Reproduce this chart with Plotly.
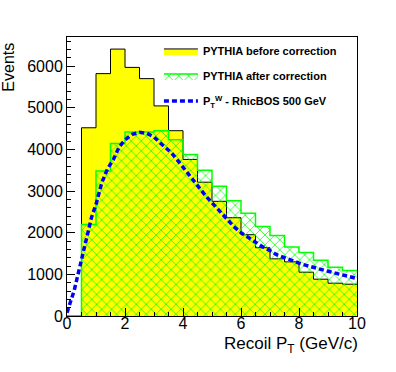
import plotly.graph_objects as go

# ---- data ----
bin_edges = [i * 0.5 for i in range(21)]
before_corr = [0, 4520, 5820, 6410, 5970, 5700, 5045, 4450, 3760, 3213,
               2754, 2360, 1952, 1640, 1373, 1300, 1052, 884, 788, 764]
after_corr = [0, 2200, 3480, 4140, 4420, 4420, 4450, 4230, 3880, 3502,
              3116, 2768, 2466, 2152, 1936, 1655, 1526, 1341, 1173, 1092]
rhicbos_x = [0, 0.1, 0.25, 0.4, 0.55, 0.7, 0.85, 1.0, 1.2, 1.4, 1.6, 1.8, 2.0,
             2.25, 2.5, 2.75, 3.0, 3.2, 3.4, 3.6, 3.8, 4.0, 4.2, 4.4, 4.6, 4.8,
             5.0, 5.25, 5.5, 5.75, 6.0, 6.25, 6.5, 6.75, 7.0, 7.25, 7.5, 7.75,
             8.0, 8.25, 8.5, 8.75, 9.0, 9.25, 9.5, 9.75, 10.0]
rhicbos_y = [80, 300, 620, 1060, 1530, 1960, 2380, 2680, 3200, 3540, 3760, 4060,
             4230, 4360, 4410, 4390, 4300, 4165, 4030, 3920, 3750, 3570, 3400,
             3220, 3055, 2870, 2720, 2520, 2340, 2150, 2000, 1880, 1760, 1660,
             1570, 1465, 1400, 1330, 1270, 1215, 1175, 1125, 1075, 1030, 985,
             935, 900]
x_tick_vals = [0, 2, 4, 6, 8, 10]
y_tick_vals = [0, 1000, 2000, 3000, 4000, 5000, 6000]

FONT = "Liberation Sans, Arial, sans-serif"

def step(vals):
    return list(vals) + [vals[-1]]

fig = go.Figure()
fig.add_trace(go.Scatter(
    x=bin_edges, y=step(before_corr), mode="lines", line_shape="hv",
    fill="tozeroy", fillcolor="#ffff00",
    line=dict(color="black", width=1),
    name="PYTHIA before correction", legendgroup="a"))
fig.add_trace(go.Scatter(
    x=bin_edges, y=step(after_corr), mode="lines", line_shape="hv",
    fill="tozeroy",
    fillpattern=dict(shape="x", fgcolor="#00ff00", bgcolor="rgba(0,0,0,0)",
                     size=7, solidity=0.2, fillmode="replace"),
    line=dict(color="#00ff00", width=1.5),
    name="PYTHIA after correction", legendgroup="b"))
fig.add_trace(go.Scatter(
    x=rhicbos_x, y=rhicbos_y, mode="lines",
    line=dict(color="#0000ff", width=3.5, dash="5px,3px"),
    name="P<sub>T</sub><sup>W</sup> - RhicBOS 500 GeV", legendgroup="c"))

fig.update_layout(
    width=396, height=372,
    margin=dict(l=67, r=39, t=37, b=56),
    paper_bgcolor="white", plot_bgcolor="white",
    font=dict(family=FONT, size=16, color="black"),
    showlegend=True,
    legend=dict(x=0.317, y=1.002, xanchor="left", yanchor="top",
                bgcolor="rgba(0,0,0,0)", borderwidth=0,
                font=dict(family=FONT, size=11, color="black", weight="bold"),
                tracegroupgap=6, itemwidth=34),
    xaxis=dict(range=[0, 10], tickvals=x_tick_vals, ticks="inside", ticklen=8,
               tickcolor="black", showline=True, linecolor="black", linewidth=1,
               mirror=True, showgrid=False, zeroline=False,
               minor=dict(dtick=0.5, ticks="inside", ticklen=4, tickcolor="black",
                          showgrid=False),
               ticklabelstandoff=-7,
               tickfont=dict(size=16)),
    yaxis=dict(range=[0, 6700], tickvals=y_tick_vals, ticks="inside", ticklen=8,
               tickcolor="black", showline=True, linecolor="black", linewidth=1,
               mirror=True, showgrid=False, zeroline=False,
               minor=dict(dtick=200, ticks="inside", ticklen=4, tickcolor="black",
                          showgrid=False),
               tickfont=dict(size=16)),
    annotations=[
        dict(text="Events", xref="paper", yref="paper", x=-0.2, y=0.985,
             xanchor="center", yanchor="top", textangle=-90, showarrow=False,
             font=dict(size=16)),
        dict(text="Recoil P<sub>T</sub> (GeV/c)", xref="paper", yref="paper",
             x=1.01, y=-0.057, xanchor="right", yanchor="top", showarrow=False,
             font=dict(size=17)),
    ],
)

fig.write_html("out.html",
               config={"displayModeBar": False},
               post_script="document.body.style.margin='0';"
                           "document.body.style.padding='0';")
